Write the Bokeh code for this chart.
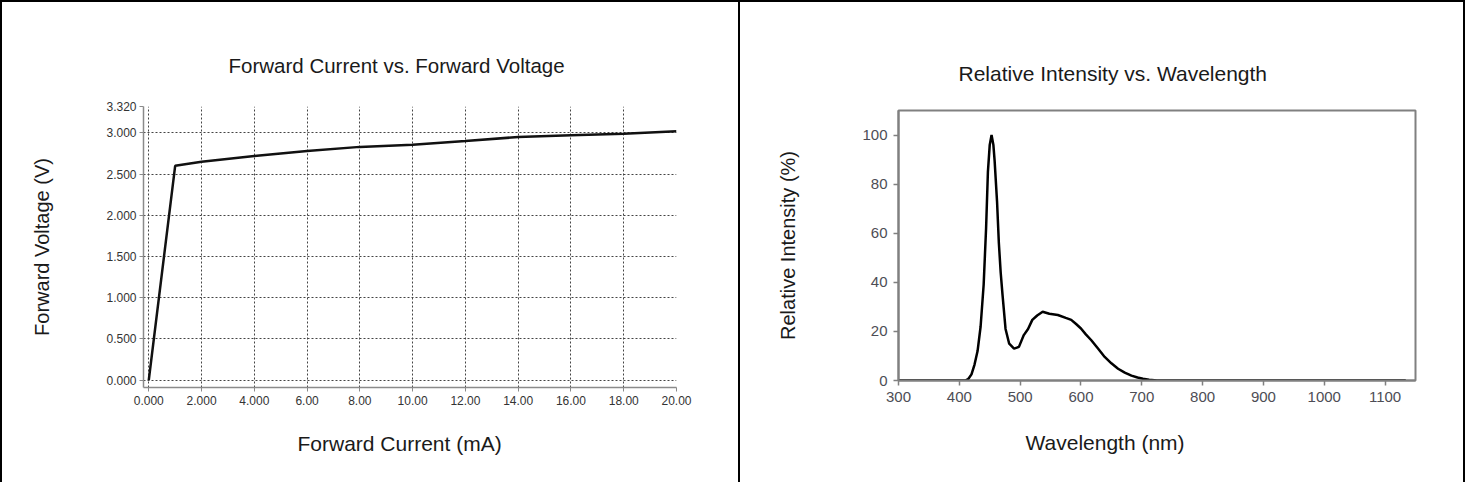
from bokeh.plotting import figure
from bokeh.models import FixedTicker, Range1d, Title
from bokeh.layouts import row, column
from bokeh.embed import file_html
from bokeh.resources import INLINE

# ---- Left chart data: Forward Current vs. Forward Voltage ----
fc_ma = [0, 1.0, 2, 4, 6, 8, 10, 12, 14, 16, 18, 20]
fv_v = [0, 2.60, 2.65, 2.72, 2.78, 2.83, 2.855, 2.90, 2.95, 2.97, 2.99, 3.02]
fc_ticks = [0, 2, 4, 6, 8, 10, 12, 14, 16, 18, 20]
fc_labels = ["0.000", "2.000", "4.000", "6.00", "8.00", "10.00", "12.00", "14.00", "16.00", "18.00", "20.00"]
fv_ticks = [0, 0.5, 1.0, 1.5, 2.0, 2.5, 3.0, 3.32]
fv_labels = ["0.000", "0.500", "1.000", "1.500", "2.000", "2.500", "3.000", "3.320"]

# ---- Right chart data: Relative Intensity vs. Wavelength ----
wavelength = [300, 410, 415, 420, 425, 430, 435, 440, 444, 447, 450, 453, 456, 458, 462, 465, 468,
              471, 476, 482, 490, 498, 506, 513, 520, 528, 537, 548, 562, 575, 584, 592, 600, 608,
              617, 628, 639, 650, 661, 672, 683, 693, 702, 712, 725, 1134]
intensity = [0, 0, 0.7, 2.5, 6.5, 12, 22, 39, 62, 85, 96, 100, 96, 89.7, 73, 56, 44,
             35, 21, 15, 13, 13.7, 18.5, 21, 24.7, 26.5, 28, 27.2, 26.7, 25.5, 24.7, 23, 21.2, 18.8,
             16.4, 13, 9.6, 7, 4.8, 3.2, 2, 1.2, 0.7, 0.3, 0, 0]
wl_ticks = [300, 400, 500, 600, 700, 800, 900, 1000, 1100]
ri_ticks = [0, 20, 40, 60, 80, 100]

FONT = "'Liberation Sans', Arial, sans-serif"
NARROW = "'Liberation Sans Narrow', 'Liberation Sans', Arial, sans-serif"


def style_title(t, offset, standoff, size="21px"):
    t.align = "left"
    t.text_font = FONT
    t.text_font_size = size
    t.text_font_style = "normal"
    t.text_color = "#1a1a1a"
    t.offset = offset
    t.standoff = standoff


# ---------------- Left figure ----------------
p1 = figure(width=740, height=482, x_range=Range1d(-0.2, 20), y_range=Range1d(-0.09, 3.32),
            output_backend="svg", toolbar_location=None,
            min_border_left=141, min_border_right=66, min_border_top=104, min_border_bottom=97,
            title="Forward Current vs. Forward Voltage")
style_title(p1.title, 85, 60, "20.5px")
p1.outline_line_color = None
p1.line(fc_ma, fv_v, line_color="#111111", line_width=2.5)

p1.xaxis.ticker = FixedTicker(ticks=fc_ticks)
p1.xaxis.major_label_overrides = dict(zip(fc_ticks, fc_labels))
p1.yaxis.ticker = FixedTicker(ticks=fv_ticks)
p1.yaxis.major_label_overrides = dict(zip(fv_ticks, fv_labels))
p1.yaxis.axis_label = "Forward Voltage (V)"
for ax in (p1.xaxis, p1.yaxis):
    ax.axis_line_color = "#8a8a8a"
    ax.axis_line_width = 1.5
    ax.major_tick_line_color = "#8a8a8a"
    ax.major_tick_out = 4
    ax.major_tick_in = 0
    ax.minor_tick_line_color = None
    ax.major_label_text_font = NARROW
    ax.major_label_text_font_size = "12px"
    ax.major_label_text_color = "#333333"
    ax.axis_label_text_font = FONT
    ax.axis_label_text_font_size = "20px"
    ax.axis_label_text_font_style = "normal"
    ax.axis_label_text_color = "#1a1a1a"
p1.xaxis.major_label_standoff = 4
p1.yaxis.major_label_standoff = 3
p1.yaxis.axis_label_standoff = 50
xl1 = Title(text="Forward Current (mA)")
style_title(xl1, 154, 44, "21px")
p1.add_layout(xl1, "below")
p1.grid.grid_line_color = "#444444"
p1.grid.grid_line_dash = "2 2"
p1.grid.grid_line_width = 1
p1.styles = {"border-left": "2px solid black", "border-top": "2px solid black",
             "border-right": "2px solid black"}

# ---------------- Right figure ----------------
p2 = figure(width=725, height=482, x_range=Range1d(300, 1150), y_range=Range1d(0, 110),
            output_backend="svg", toolbar_location=None,
            min_border_left=158, min_border_right=50, min_border_top=108, min_border_bottom=104,
            title="Relative Intensity vs. Wavelength")
style_title(p2.title, 60, 52)
p2.outline_line_color = "#808080"
p2.outline_line_width = 2
p2.grid.visible = False
p2.line(wavelength, intensity, line_color="#000000", line_width=2.5)

p2.xaxis.ticker = FixedTicker(ticks=wl_ticks)
p2.yaxis.ticker = FixedTicker(ticks=ri_ticks)
p2.yaxis.axis_label = "Relative Intensity (%)"
for ax in (p2.xaxis, p2.yaxis):
    ax.axis_line_color = "#808080"
    ax.axis_line_width = 2
    ax.major_tick_line_color = "#808080"
    ax.major_tick_line_width = 1.5
    ax.major_tick_out = 5
    ax.major_tick_in = 0
    ax.minor_tick_line_color = None
    ax.major_label_text_font = FONT
    ax.major_label_text_font_size = "15px"
    ax.major_label_text_color = "#4d4d55"
    ax.axis_label_text_font = FONT
    ax.axis_label_text_font_size = "20px"
    ax.axis_label_text_font_style = "normal"
    ax.axis_label_text_color = "#1a1a1a"
p2.xaxis.major_label_standoff = 6
p2.yaxis.major_label_standoff = 6
p2.yaxis.axis_label_standoff = 60
xl2 = Title(text="Wavelength (nm)")
style_title(xl2, 127, 48, "21px")
p2.add_layout(xl2, "below")
p2.styles = {"border-top": "2px solid black", "border-right": "2px solid black"}

layout = row(column(p1), column(p2))
open("out.html", "w").write(file_html(layout, INLINE))
